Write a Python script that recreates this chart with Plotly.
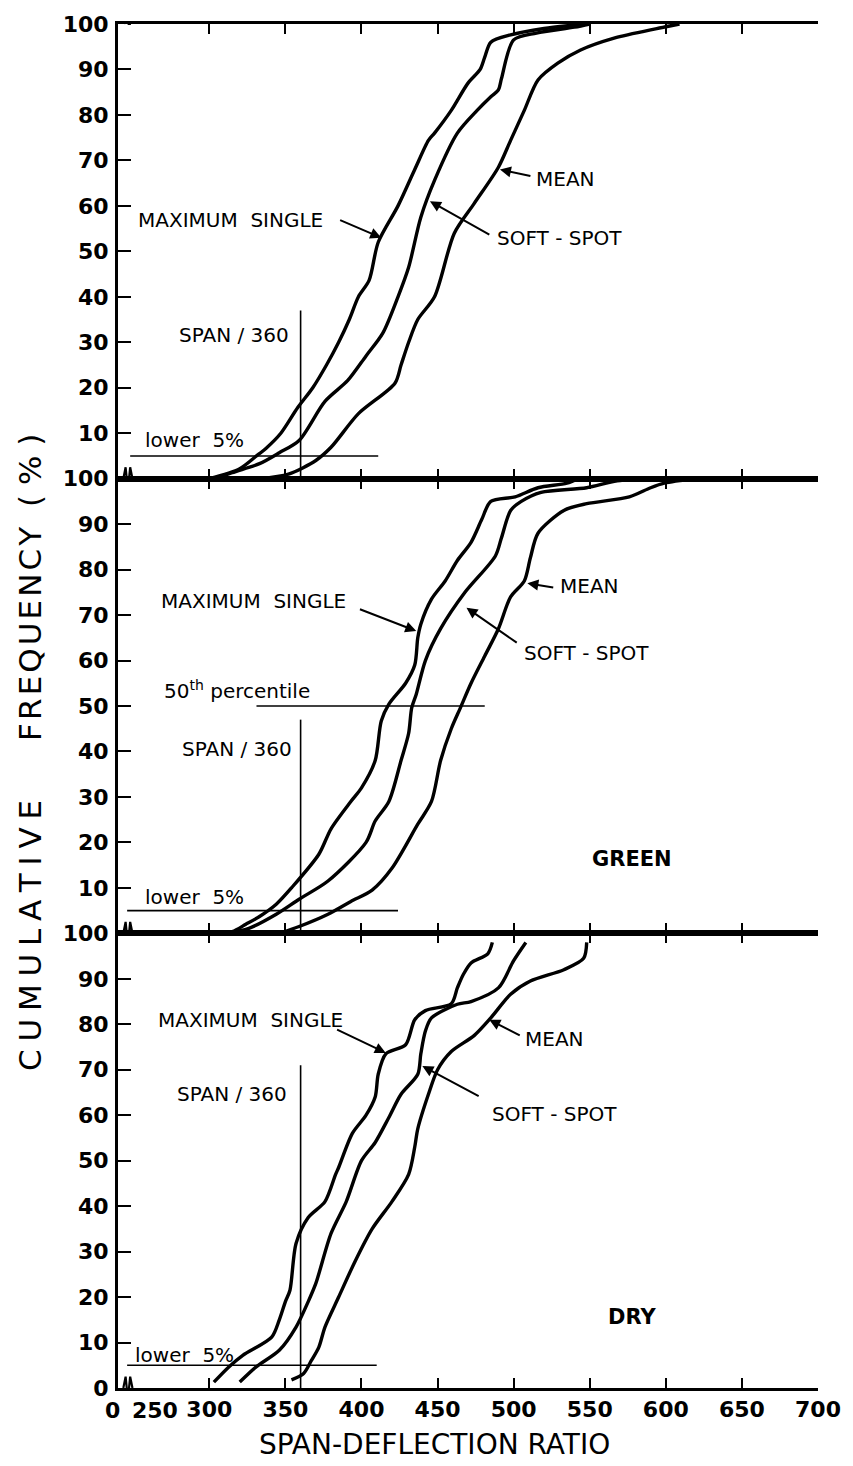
import plotly.graph_objects as go
from plotly.subplots import make_subplots

# ---------------- data (span-deflection ratio vs cumulative frequency %) -------------
# Top panel (all)
top_max_x = [300, 320, 331, 337, 347, 358, 368, 377, 385, 392, 398, 405, 411, 424, 435, 444, 448, 459, 470, 478, 481, 485, 498, 520, 546]
top_max_y = [0, 2.2, 5, 6.6, 10, 15.6, 20, 25, 30, 35, 40, 43.6, 52, 60, 68, 74.4, 76, 81, 87, 90, 92.7, 96, 97.6, 99, 100]
top_soft_x = [305, 315, 333, 346, 359, 376, 391, 403, 414, 424, 431, 439, 448, 463, 476, 485, 490, 492, 500, 515, 540, 550]
top_soft_y = [0, 1.3, 3.3, 5.7, 8.4, 17, 21.6, 27, 32, 40, 46.5, 57.5, 65.6, 76, 81, 84, 85.5, 88, 96.5, 98, 99.3, 100]
top_mean_x = [333, 352, 370, 380, 398, 422, 426, 431, 437, 448, 461, 474, 490, 498, 507, 516, 529, 544, 566, 594, 609]
top_mean_y = [0, 1, 4, 6.9, 14.3, 21, 25, 30, 35, 40, 54, 60.5, 68.5, 74.4, 81, 87.7, 91.4, 94.3, 96.9, 99, 100]

# Middle panel (GREEN)
mid_max_x = [300, 315, 324, 333, 344, 354, 372, 380, 393, 400, 409, 413, 418, 429, 435, 437, 439, 446, 455, 463, 472, 479, 485, 501, 516, 535, 542]
mid_max_y = [0, 0.4, 2, 3.7, 6.4, 10, 17.4, 23, 29, 32, 38, 46.7, 50.4, 55, 59, 65, 68, 73.5, 77.5, 82, 86, 91, 95, 96, 98, 99, 100]
mid_soft_x = [311, 326, 344, 359, 378, 403, 409, 418, 426, 431, 433, 436, 442, 452, 468, 488, 492, 498, 505, 518, 548, 568, 596]
mid_soft_y = [0, 1.1, 4.2, 7.5, 11.5, 20, 24.7, 29, 38, 44, 49.6, 52.6, 60, 67, 75, 83, 87, 93, 95, 97, 98, 99.5, 100]
mid_mean_x = [346, 359, 378, 393, 407, 420, 437, 446, 452, 459, 465, 472, 481, 490, 498, 507, 511, 516, 533, 548, 576, 590, 599, 620]
mid_mean_y = [0, 1.5, 4.2, 7, 9.5, 14.3, 24, 29, 38, 45, 49.6, 55, 61, 67, 74, 77.5, 82.6, 88, 93, 94.5, 96, 98, 99, 100]

# Bottom panel (DRY)
bot_max_x = [303, 313, 322, 341, 346, 350, 353, 357, 365, 376, 383, 385, 394, 403, 409, 411, 416, 429, 435, 442, 459, 463, 467, 472, 483, 486]
bot_max_y = [1.3, 4.7, 7.2, 11.2, 15, 19, 21.5, 31.8, 37.5, 41, 47, 48.5, 56, 60, 64, 69, 73.5, 75.5, 81, 83, 84.5, 88, 91, 93.5, 95.5, 98]
bot_soft_x = [320, 331, 346, 357, 365, 370, 380, 390, 400, 409, 418, 426, 437, 439, 442, 446, 463, 472, 490, 500, 508]
bot_soft_y = [1.3, 4.7, 8.3, 13.4, 19, 23, 34, 41, 50, 54, 59.5, 64.6, 69, 73.5, 78.5, 81.4, 84.4, 85, 88, 94, 98]
bot_mean_x = [354, 362, 367, 372, 376, 385, 396, 407, 420, 431, 435, 437, 444, 450, 459, 474, 485, 498, 511, 533, 546, 548]
bot_mean_y = [1.8, 3.2, 6, 9, 13.4, 20, 28, 35, 41, 47, 53, 57, 64.6, 70, 74, 77.5, 81.4, 86.6, 89.5, 92, 94.5, 98]

# reference lines
span360 = 360
lower5 = 5
lower5_x = [[248, 411], [246, 424], [246, 410]]
span_top = [37, 47, 71]
pct50_x = [331, 481]
pct50_y = 50

y_ticks_top = [10, 20, 30, 40, 50, 60, 70, 80, 90, 100]
y_ticks_bot = [0, 10, 20, 30, 40, 50, 60, 70, 80, 90, 100]
x_ticks = [300, 350, 400, 450, 500, 550, 600, 650, 700]

FONT = "DejaVu Sans"
CURVE_W = 3.4
THIN_W = 1.6

fig = make_subplots(rows=3, cols=1, shared_xaxes=True, vertical_spacing=0)

panels = [
    (top_max_x, top_max_y, top_soft_x, top_soft_y, top_mean_x, top_mean_y),
    (mid_max_x, mid_max_y, mid_soft_x, mid_soft_y, mid_mean_x, mid_mean_y),
    (bot_max_x, bot_max_y, bot_soft_x, bot_soft_y, bot_mean_x, bot_mean_y),
]
names = ["Maximum single", "Soft-spot", "Mean"]
for r, p in enumerate(panels, start=1):
    for k in range(3):
        fig.add_trace(go.Scatter(x=p[2 * k], y=p[2 * k + 1], mode="lines", name=names[k],
                                 line=dict(color="black", width=CURVE_W, shape="spline", smoothing=0.8),
                                 showlegend=False), row=r, col=1)
    # lower 5% line
    fig.add_trace(go.Scatter(x=lower5_x[r - 1], y=[lower5, lower5], mode="lines",
                             line=dict(color="black", width=THIN_W), showlegend=False), row=r, col=1)
    # span/360 line
    fig.add_trace(go.Scatter(x=[span360, span360], y=[0, span_top[r - 1]], mode="lines",
                             line=dict(color="black", width=THIN_W), showlegend=False), row=r, col=1)
    # axis break squiggle
    fig.add_trace(go.Scatter(x=[243.5, 245, 246.5, 248, 249.5], y=[0, 2.5, -2.5, 2.5, 0],
                             mode="lines", line=dict(color="black", width=2.2), cliponaxis=False,
                             showlegend=False, hoverinfo="skip"), row=r, col=1)

# top break spike
fig.add_trace(go.Scatter(x=[244, 245.5, 247, 248.5], y=[100, 102.8, 100, 100], mode="lines",
                         line=dict(color="black", width=2.2), cliponaxis=False, showlegend=False,
                         hoverinfo="skip"), row=1, col=1)

# 50th percentile line (middle)
fig.add_trace(go.Scatter(x=pct50_x, y=[pct50_y, pct50_y], mode="lines",
                         line=dict(color="black", width=THIN_W), showlegend=False), row=2, col=1)

for r in (1, 2, 3):
    fig.update_xaxes(range=[240, 700], showline=True, linewidth=3, linecolor="black",
                     mirror="ticks", ticks="inside", ticklen=10, tickwidth=2.2, tickcolor="black",
                     tickvals=x_ticks, showgrid=False, zeroline=False,
                     showticklabels=(r == 3), row=r, col=1)
    fig.update_yaxes(range=[0, 100], showline=True, linewidth=3, linecolor="black",
                     ticks="inside", ticklen=13, tickwidth=2.2, tickcolor="black",
                     tickvals=(y_ticks_bot if r == 3 else y_ticks_top), showgrid=False, zeroline=False,
                     tickfont=dict(family=FONT, size=22, color="black", weight="bold"),
                     ticklabelstandoff=2, row=r, col=1)
fig.update_xaxes(tickfont=dict(family=FONT, size=22, color="black", weight="bold"), row=3, col=1)

ann = []

def txt(text, x, y, ax_i, size=20, bold=False, xanchor="center"):
    s = "" if ax_i == 1 else str(ax_i)
    ann.append(dict(text=text, x=x, y=y, xref="x" + s, yref="y" + s, showarrow=False,
                    xanchor=xanchor, yanchor="middle",
                    font=dict(family=FONT, size=size, color="black", weight="bold" if bold else "normal")))

def arrow(x, y, axv, ayv, ax_i):
    s = "" if ax_i == 1 else str(ax_i)
    ann.append(dict(text="", x=x, y=y, ax=axv, ay=ayv, xref="x" + s, yref="y" + s,
                    axref="x" + s, ayref="y" + s, showarrow=True, arrowhead=2, arrowsize=1.1,
                    arrowwidth=2, arrowcolor="black"))

# top panel
txt("MAXIMUM\u00a0\u00a0SINGLE", 314, 57, 1)
arrow(413, 53, 385, 57, 1)
txt("SOFT\u00a0-\u00a0SPOT", 530, 53, 1)
arrow(445, 61, 485, 53.5, 1)
txt("MEAN", 534, 66, 1)
arrow(491, 68, 512, 66.5, 1)
txt("SPAN\u00a0/\u00a0360", 316, 31.5, 1)
txt("lower\u00a0\u00a05%", 290, 8.4, 1)

# middle panel
txt("MAXIMUM\u00a0\u00a0SINGLE", 329, 73, 2)
arrow(436, 66.5, 398, 71.4, 2)
txt("SOFT\u00a0-\u00a0SPOT", 548, 61.7, 2)
arrow(469, 71.6, 503, 63.7, 2)
txt("MEAN", 550, 76.4, 2)
arrow(509, 77, 527, 76, 2)
txt("50<sup>th</sup> percentile", 318, 53.5, 2)
txt("SPAN\u00a0/\u00a0360", 318, 40.5, 2)
txt("lower\u00a0\u00a05%", 290, 8.1, 2)
txt("GREEN", 578, 16.3, 2, size=21, bold=True)

# bottom panel
txt("MAXIMUM\u00a0\u00a0SINGLE", 327, 81, 3)
arrow(416, 73.7, 383, 79, 3)
txt("SOFT\u00a0-\u00a0SPOT", 527, 60.3, 3)
arrow(440, 70.8, 478, 64, 3)
txt("MEAN", 527, 76.8, 3)
arrow(484, 81, 505, 77.4, 3)
txt("SPAN\u00a0/\u00a0360", 315, 64.7, 3)
txt("lower\u00a0\u00a05%", 284, 7.2, 3)
txt("DRY", 578, 15.6, 3, size=21, bold=True)

# broken-axis x labels ("0" sits at the axis origin, left of the break)
ann.append(dict(text="0", x=-0.022, y=0, xref="paper", yref="paper", yanchor="top", yshift=-8,
                showarrow=False, font=dict(family=FONT, size=22, color="black", weight="bold")))
ann.append(dict(text="250", x=264, y=0, xref="x3", yref="paper", yanchor="top", yshift=-8,
                showarrow=False, font=dict(family=FONT, size=22, color="black", weight="bold")))

# axis titles
ann.append(dict(text="SPAN-DEFLECTION RATIO", x=448, y=0, xref="x3", yref="paper", yanchor="top",
                yshift=-38, showarrow=False, font=dict(family=FONT, size=28, color="black")))
sp = "\u2005"
cum = sp.join("CUMULATIVE")
freq = "\u200a".join("FREQUENCY")
ytitle = cum + "\u00a0" * 6 + freq + "\u00a0\u00a0" + "(\u00a0%\u00a0)"
ann.append(dict(text=ytitle, x=-0.125, y=0.466, xref="paper", yref="paper", textangle=-90,
                showarrow=False, xanchor="center", yanchor="middle",
                font=dict(family=FONT, size=31, color="black")))

fig.update_layout(width=853, height=1466, margin=dict(l=118, r=31, t=24, b=78),
                  paper_bgcolor="white", plot_bgcolor="white", annotations=ann, showlegend=False)

fig.write_html("out.html")
